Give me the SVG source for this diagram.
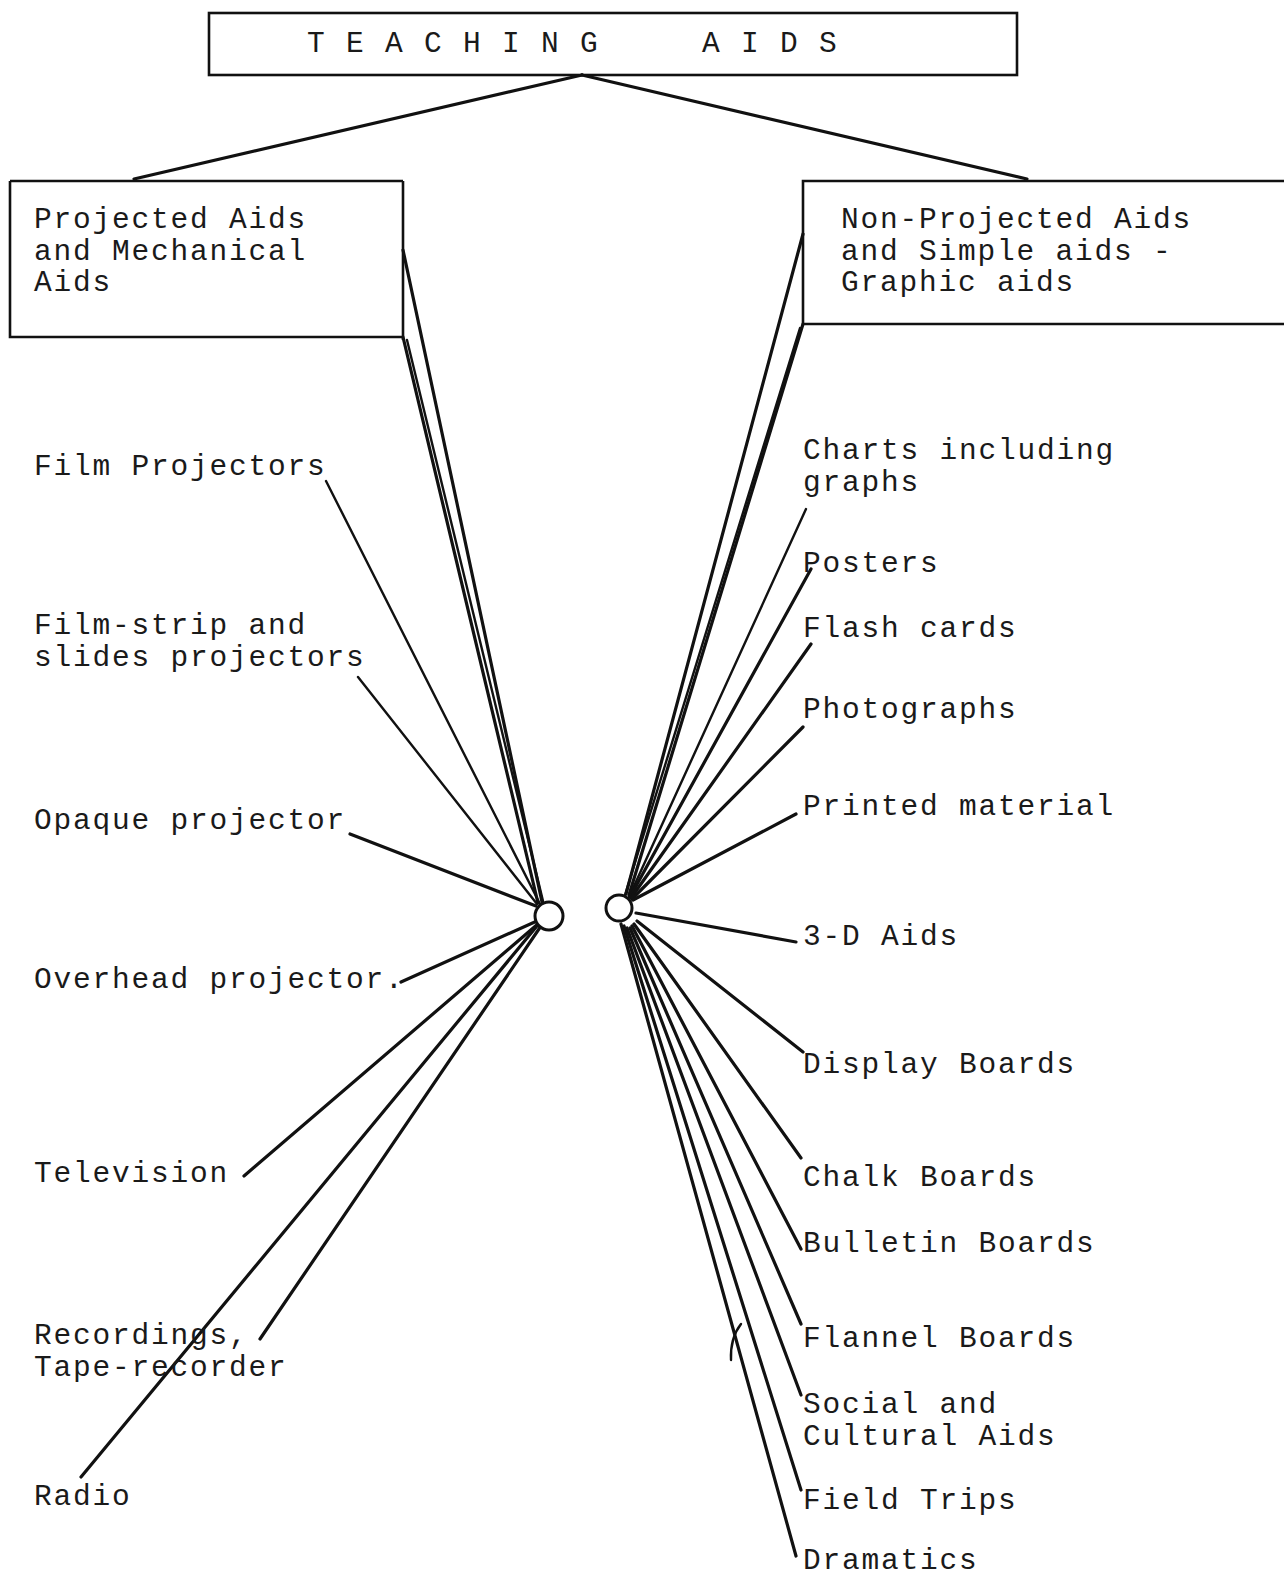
<svg xmlns="http://www.w3.org/2000/svg" width="1284" height="1579" viewBox="0 0 1284 1579">
<style>
  .t{font-family:"Liberation Mono","DejaVu Sans Mono",monospace;font-size:29.5px;letter-spacing:1.8px;fill:#1a1a1a}
  .box{fill:none;stroke:#111;stroke-width:2.6}
  .ln{fill:none;stroke:#111;stroke-width:3.2;stroke-linecap:round}
  .thin{fill:none;stroke:#111;stroke-width:2.4;stroke-linecap:round}
  .hub{fill:#fff;stroke:#111;stroke-width:3}
</style>
<rect width="1284" height="1579" fill="#fff"/>

<g id="connectors">
  <line class="ln" x1="582" y1="75" x2="134" y2="179"/>
  <line class="ln" x1="582" y1="75" x2="1027" y2="179"/>
  <!-- left side -->
  <line class="ln" x1="403" y1="250" x2="542" y2="902"/>
  <line class="ln" x1="403" y1="337" x2="538" y2="903"/>
  <line class="thin" x1="407" y1="340" x2="543" y2="901"/>
  <line class="thin" x1="326" y1="481" x2="540" y2="904"/>
  <line class="thin" x1="358" y1="677" x2="537" y2="904"/>
  <line class="ln" x1="350" y1="834" x2="536" y2="906"/>
  <line class="ln" x1="401" y1="982" x2="537" y2="921"/>
  <line class="ln" x1="244" y1="1176" x2="539" y2="923"/>
  <line class="ln" x1="260" y1="1339" x2="541" y2="926"/>
  <line class="ln" x1="81" y1="1477" x2="537" y2="926"/>
  <!-- right side -->
  <line class="ln" x1="803" y1="234" x2="626" y2="894"/>
  <line class="ln" x1="803" y1="324" x2="629" y2="895"/>
  <line class="thin" x1="800" y1="328" x2="625" y2="895"/>
  <line class="thin" x1="806" y1="509" x2="629" y2="897"/>
  <line class="ln" x1="811" y1="569" x2="630" y2="897"/>
  <line class="ln" x1="811" y1="644" x2="631" y2="898"/>
  <line class="ln" x1="803" y1="727" x2="632" y2="899"/>
  <line class="ln" x1="796" y1="814" x2="633" y2="900"/>
  <line class="ln" x1="636" y1="913" x2="796" y2="942"/>
  <line class="ln" x1="637" y1="921" x2="803" y2="1052"/>
  <line class="ln" x1="634" y1="924" x2="801" y2="1158"/>
  <line class="ln" x1="632" y1="926" x2="801" y2="1249"/>
  <line class="ln" x1="630" y1="928" x2="801" y2="1324"/>
  <line class="ln" x1="627" y1="928" x2="801" y2="1395"/>
  <line class="ln" x1="624" y1="926" x2="801" y2="1490"/>
  <line class="ln" x1="621" y1="924" x2="796" y2="1556"/>
  <path class="thin" d="M741,1324 Q730,1338 731,1360" stroke-width="1.5"/>
</g>

<g id="teaching-aids">
  <rect class="box" x="209" y="13" width="808" height="62"/>
  <text class="t" y="52"><tspan x="307">T E A C H I N G</tspan><tspan x="702">A I D S</tspan></text>
</g>

<g id="projected-aids">
  <path class="box" d="M10,181 H403 M403,181 V340 M10,181 V337 H403"/>
  <text class="t" x="34" y="228">Projected Aids</text>
  <text class="t" x="34" y="260">and Mechanical</text>
  <text class="t" x="34" y="291">Aids</text>
</g>

<g id="non-projected-aids">
  <path class="box" d="M1284,181 H803 V324 H1284"/>
  <text class="t" x="841" y="228">Non-Projected Aids</text>
  <text class="t" x="841" y="260">and Simple aids -</text>
  <text class="t" x="841" y="291">Graphic aids</text>
</g>

<g id="left-hub"><circle class="hub" cx="549" cy="916" r="14"/></g>
<g id="right-hub"><circle class="hub" cx="619" cy="908" r="13"/></g>

<g id="film-projectors"><text class="t" x="34" y="475">Film Projectors</text></g>
<g id="film-strip"><text class="t" x="34" y="634">Film-strip and</text><text class="t" x="34" y="666">slides projectors</text></g>
<g id="opaque"><text class="t" x="34" y="829">Opaque projector</text></g>
<g id="overhead"><text class="t" x="34" y="988">Overhead projector.</text></g>
<g id="television"><text class="t" x="34" y="1182">Television</text></g>
<g id="recordings"><text class="t" x="34" y="1344">Recordings,</text><text class="t" x="34" y="1376">Tape-recorder</text></g>
<g id="radio"><text class="t" x="34" y="1505">Radio</text></g>

<g id="charts"><text class="t" x="803" y="459">Charts including</text><text class="t" x="803" y="491">graphs</text></g>
<g id="posters"><text class="t" x="803" y="572">Posters</text></g>
<g id="flash-cards"><text class="t" x="803" y="637">Flash cards</text></g>
<g id="photographs"><text class="t" x="803" y="718">Photographs</text></g>
<g id="printed"><text class="t" x="803" y="815">Printed material</text></g>
<g id="three-d"><text class="t" x="803" y="945">3-D Aids</text></g>
<g id="display-boards"><text class="t" x="803" y="1073">Display Boards</text></g>
<g id="chalk-boards"><text class="t" x="803" y="1186">Chalk Boards</text></g>
<g id="bulletin-boards"><text class="t" x="803" y="1252">Bulletin Boards</text></g>
<g id="flannel-boards"><text class="t" x="803" y="1347">Flannel Boards</text></g>
<g id="social"><text class="t" x="803" y="1413">Social and</text><text class="t" x="803" y="1445">Cultural Aids</text></g>
<g id="field-trips"><text class="t" x="803" y="1509">Field Trips</text></g>
<g id="dramatics"><text class="t" x="803" y="1569">Dramatics</text></g>
</svg>
